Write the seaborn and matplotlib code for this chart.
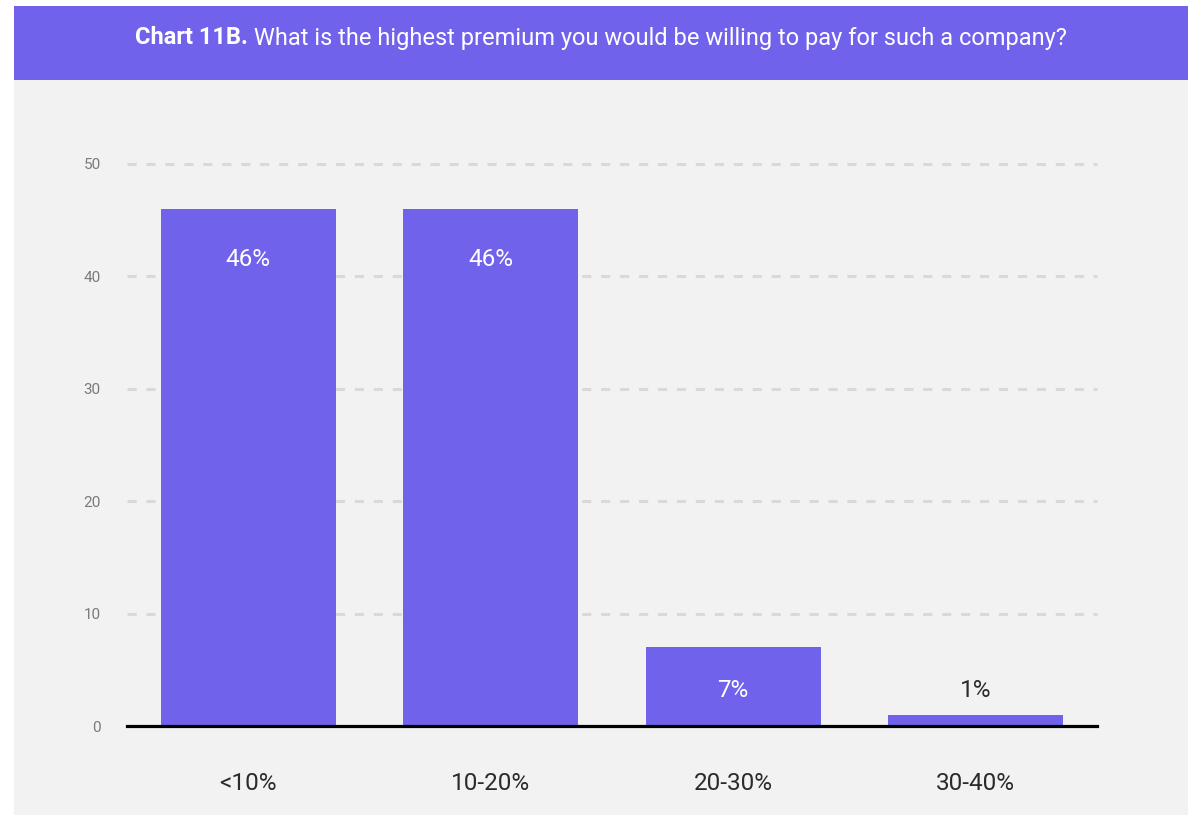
import matplotlib
matplotlib.use("Agg")
import matplotlib.pyplot as plt
from matplotlib.patches import Rectangle
import seaborn as sns
import pandas as pd

# Survey answers: highest premium respondents would pay
categories = ["<10%", "10-20%", "20-30%", "30-40%"]
shares = [46, 46, 7, 1]
value_labels = ["46%", "46%", "7%", "1%"]
y_ticks = [0, 10, 20, 30, 40, 50]

title_bold = "Chart 11B."
title_rest = " What is the highest premium you would be willing to pay for such a company?"

PURPLE = "#7162EC"
PANEL = "#F2F2F2"
GRID = "#D9D9D9"

sns.set_theme(style="white")
plt.rcParams["font.family"] = ["Roboto", "DejaVu Sans"]

W, H = 1188, 815
fig = plt.figure(figsize=(W / 100, H / 100), dpi=100)
fig.patch.set_facecolor("white")

# panel and header band
fig.patches.append(Rectangle((14 / W, 0), 1 - 14 / W, 1 - 80 / H,
                             transform=fig.transFigure, facecolor=PANEL,
                             edgecolor="none", zorder=-2))
fig.patches.append(Rectangle((14 / W, 1 - 80 / H), 1 - 14 / W, 74 / H,
                             transform=fig.transFigure, facecolor=PURPLE,
                             edgecolor="none", zorder=-2))

# axes placement: x spans 127..1097 px, y=0 at 726 px, y=50 at 164 px
ppu = (726 - 164) / 50
ymax = 50.6
top_px = 726 - ymax * ppu
ax = fig.add_axes([127 / W, 1 - 726 / H, (1097 - 127) / W, (726 - top_px) / H])
ax.set_facecolor("none")

df = pd.DataFrame({"category": categories, "share": shares})
sns.barplot(data=df, x="category", y="share", color=PURPLE, saturation=1,
            width=0.72, ax=ax, zorder=3, linewidth=0, edgecolor="none")

ax.set_xlim(-0.5, len(categories) - 0.5)
ax.set_ylim(0, ymax)
ax.set_yticks(y_ticks)
ax.set_yticklabels([str(t) for t in y_ticks])
ax.set_xlabel("")
ax.set_ylabel("")

for t in y_ticks[1:]:
    ax.axhline(t, color=GRID, lw=2.2, ls=(0, (3.0, 3.2)), zorder=1, clip_on=False)

for s in ["top", "right", "left"]:
    ax.spines[s].set_visible(False)
ax.spines["bottom"].set_color("black")
ax.spines["bottom"].set_linewidth(2.3)
ax.spines["bottom"].set_zorder(4)

ax.tick_params(axis="y", length=0, pad=19, labelsize=11, labelcolor="#7a7a7a")
ax.tick_params(axis="x", length=0, pad=33, labelsize=17.5, labelcolor="#2b2b2b")

# value labels
for i, (v, txt) in enumerate(zip(shares, value_labels)):
    if v >= 10:
        y, col = v - 4.5, "white"
    elif v >= 5:
        y, col = 3.2, "white"
    else:
        y, col = 3.2, "#2b2b2b"
    ax.text(i, y, txt, ha="center", va="center", fontsize=17.5, color=col,
            zorder=5)

# header title: bold lead followed by regular question
yc = 1 - 38 / H
t1 = fig.text(0, yc, title_bold, fontsize=17, fontweight="bold", color="white",
              va="center", ha="left")
t2 = fig.text(0, yc, title_rest, fontsize=17, color="white", va="center", ha="left")
fig.canvas.draw()
r = fig.canvas.get_renderer()
w1 = t1.get_window_extent(r).width
w2 = t2.get_window_extent(r).width
x0 = (601 - (w1 + w2) / 2)
t1.set_x(x0 / W)
t2.set_x((x0 + w1) / W)

fig.savefig("out.png", dpi=100, facecolor=fig.get_facecolor())
